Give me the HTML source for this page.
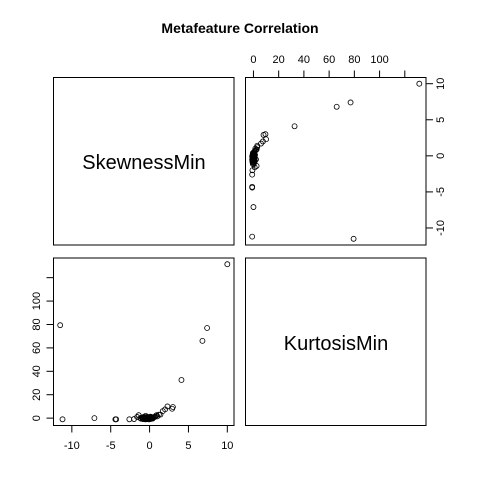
<!DOCTYPE html>
<html><head><meta charset="utf-8"><style>
html,body{margin:0;padding:0;background:#fff;}
svg{display:block;font-family:"Liberation Sans",sans-serif;}
</style></head><body>
<svg id="chart" width="480" height="480">
<rect width="480" height="480" fill="#fff"/>
<text x="240" y="33" text-anchor="middle" font-size="14" font-weight="bold">Metafeature Correlation</text>
<rect x="53.5" y="77.5" width="180.5" height="167.5" fill="none" stroke="#000"/>
<rect x="245.5" y="77.5" width="180.5" height="167.5" fill="none" stroke="#000"/>
<rect x="53.5" y="258" width="180.5" height="167.5" fill="none" stroke="#000"/>
<rect x="245.5" y="258" width="180.5" height="167.5" fill="none" stroke="#000"/>
<text x="144" y="169" text-anchor="middle" font-size="20">SkewnessMin</text>
<text x="336" y="350" text-anchor="middle" font-size="20">KurtosisMin</text>
<g id="marks"></g>
</svg>
<script>
const skew = [-11.5,-11.2,-7.1,-4.4,-4.3,-2.6,-2.0,-1.6,-1.4,-1.2,-1.0,-0.9,-0.8,-0.7,-0.6,-0.5,-0.5,-0.4,-0.3,-0.3,-0.2,-0.1,0,0,0.1,0.1,0.2,0.3,0.3,0.4,0.5,0.6,0.7,0.8,0.9,1.0,1.2,1.4,1.7,2.0,2.3,2.9,3.0,4.1,6.8,7.4,10.0,-0.2,-0.6,0.4,
  -1.1,-0.95,-0.85,-0.75,-0.65,-0.55,-0.45,-0.35,-0.25,-0.15,-0.05,0.05,0.15,0.25,-0.7,-0.5,-0.3,-0.1,0.1,-0.9];
const kurt = [79.4,-1.0,0.0,-1.0,-1.0,-1.0,-0.8,1.0,2.5,0.0,0.5,-0.5,0.0,-0.5,0.2,2.0,-0.6,0.0,-0.4,0.5,-0.3,0.0,-0.5,0.3,-0.2,0.0,0.4,-0.3,0.2,0.0,0.5,0.8,1.2,2.0,2.5,1.5,3.0,3.0,6.0,7.5,10.0,8.0,9.5,32.6,66.0,77.0,131.5,-0.6,0.0,-0.4,
  -0.5,0.2,-0.8,0.6,-0.9,0.4,-0.7,0.8,-0.6,0.3,-0.9,0.6,-0.7,0.9,1.2,-1.0,1.0,-1.0,1.3,-0.2];
const skewTicks = [-10,-5,0,5,10];
const kurtTicks = [0,20,40,60,80,100,120];
const kurtLabels = ["0","20","40","60","80","100",""];

const skewMin = Math.min(...skew), skewMax = Math.max(...skew);
const kurtMin = Math.min(...kurt), kurtMax = Math.max(...kurt);
function padRange(a,b){const p=(b-a)*0.04;return [a-p,b+p];}
const sr = padRange(skewMin,skewMax), kr = padRange(kurtMin,kurtMax);
function hx(v,r,left){return left + (v-r[0])/(r[1]-r[0])*180.5;}
function vy(v,r,bottom){return bottom - (v-r[0])/(r[1]-r[0])*167.5;}

const ns="http://www.w3.org/2000/svg";
const g=document.getElementById('marks');
function mk(tag,attrs){const e=document.createElementNS(ns,tag);for(const k in attrs)e.setAttribute(k,attrs[k]);g.appendChild(e);return e;}

for(let i=0;i<skew.length;i++){
  const c=mk('circle',{cx:hx(skew[i],sr,53.5),cy:vy(kurt[i],kr,425.5),r:2.5,fill:'none',stroke:'#000','stroke-width':0.8});
  
  
}
for(let i=0;i<skew.length;i++){
  const c=mk('circle',{cx:hx(kurt[i],kr,245.5),cy:vy(skew[i],sr,245),r:2.5,fill:'none',stroke:'#000','stroke-width':0.8});
  
  
}
{
  const xs=skewTicks.map(t=>hx(t,sr,53.5));
  const ax=mk('line',{x1:xs[0],x2:xs[xs.length-1],y1:425.5,y2:425.5,stroke:'#000'});
  
  
  skewTicks.forEach((t,i)=>{
    mk('line',{x1:xs[i],x2:xs[i],y1:425.5,y2:432.5,stroke:'#000'});
    const tx=mk('text',{x:xs[i],y:449,'text-anchor':'middle','font-size':11});
    tx.textContent=t;
    
    
  });
}
{
  const ys=kurtTicks.map(t=>vy(t,kr,425.5));
  const ax=mk('line',{x1:53.5,x2:53.5,y1:ys[0],y2:ys[ys.length-1],stroke:'#000'});
  
  
  kurtTicks.forEach((t,i)=>{
    mk('line',{x1:46.5,x2:53.5,y1:ys[i],y2:ys[i],stroke:'#000'});
    const tx=mk('text',{x:40,y:ys[i],'text-anchor':'middle','font-size':11,transform:`rotate(-90 40 ${ys[i]})`});
    tx.textContent=kurtLabels[i];
    
    
  });
}
{
  const xs=kurtTicks.map(t=>hx(t,kr,245.5));
  const ax=mk('line',{x1:xs[0],x2:xs[xs.length-1],y1:77.5,y2:77.5,stroke:'#000'});
  
  
  kurtTicks.forEach((t,i)=>{
    mk('line',{x1:xs[i],x2:xs[i],y1:70.5,y2:77.5,stroke:'#000'});
    const tx=mk('text',{x:xs[i],y:63,'text-anchor':'middle','font-size':11});
    tx.textContent=kurtLabels[i];
    
    
  });
}
{
  const ys=skewTicks.map(t=>vy(t,sr,245));
  const ax=mk('line',{x1:426,x2:426,y1:ys[0],y2:ys[ys.length-1],stroke:'#000'});
  
  
  skewTicks.forEach((t,i)=>{
    mk('line',{x1:426,x2:433,y1:ys[i],y2:ys[i],stroke:'#000'});
    const tx=mk('text',{x:444,y:ys[i],'text-anchor':'middle','font-size':11,transform:`rotate(-90 444 ${ys[i]})`});
    tx.textContent=t;
    
    
  });
}
</script>
</body></html>
